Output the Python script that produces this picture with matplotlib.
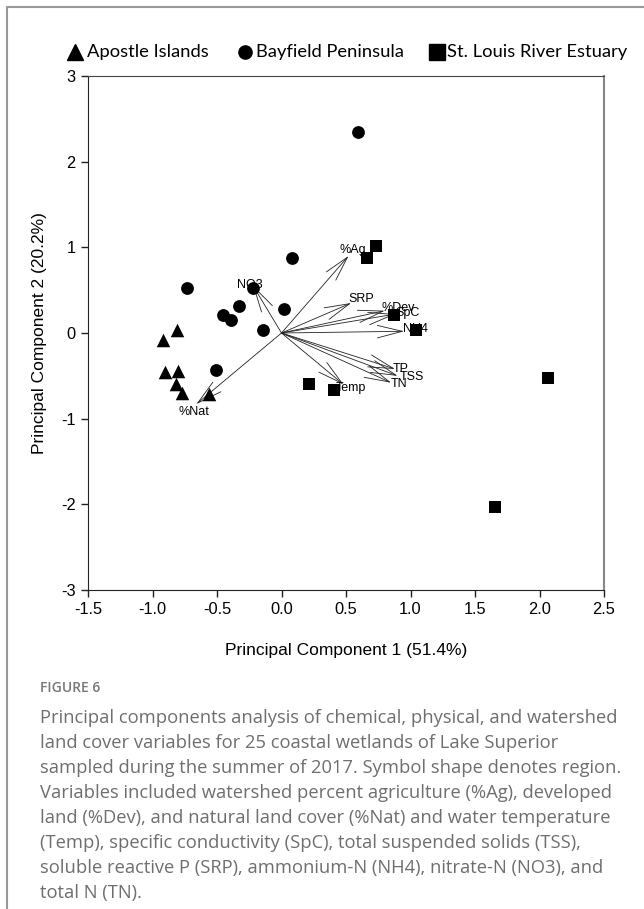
import matplotlib
matplotlib.use('Agg')
import matplotlib.pyplot as plt
from matplotlib.lines import Line2D

# site scores (PC1, PC2)
apostle_x = [-0.92, -0.81, -0.90, -0.80, -0.815, -0.77, -0.565]
apostle_y = [-0.08, 0.03, -0.46, -0.44, -0.60, -0.70, -0.71]
bayfield_x = [0.59, 0.08, -0.735, -0.22, -0.33, -0.455, -0.39, 0.02, -0.14, -0.51]
bayfield_y = [2.35, 0.87, 0.52, 0.52, 0.32, 0.21, 0.15, 0.28, 0.03, -0.43]
stlouis_x = [0.735, 0.66, 0.87, 1.045, 0.215, 0.405, 2.065, 1.655]
stlouis_y = [1.02, 0.88, 0.21, 0.03, -0.60, -0.67, -0.53, -2.03]

# variable vectors
var_names = ['%Ag', 'NO3', 'SRP', '%Dev', 'SpC', 'NH4', 'TP', 'TSS', 'TN', 'Temp', '%Nat']
var_x = [0.52, -0.22, 0.54, 0.80, 0.88, 0.95, 0.88, 0.90, 0.85, 0.48, -0.66]
var_y = [0.90, 0.55, 0.35, 0.26, 0.22, 0.02, -0.42, -0.50, -0.58, -0.60, -0.83]
label_x = [0.45, -0.345, 0.52, 0.775, 0.88, 0.94, 0.865, 0.915, 0.85, 0.42, -0.80]
label_y = [0.97, 0.56, 0.40, 0.29, 0.23, 0.05, -0.42, -0.515, -0.60, -0.64, -0.92]

xticks = [-1.5, -1.0, -0.5, 0.0, 0.5, 1.0, 1.5, 2.0, 2.5]
yticks = [-3, -2, -1, 0, 1, 2, 3]

caption = [
    "Principal components analysis of chemical, physical, and watershed",
    "land cover variables for 25 coastal wetlands of Lake Superior",
    "sampled during the summer of 2017. Symbol shape denotes region.",
    "Variables included watershed percent agriculture (%Ag), developed",
    "land (%Dev), and natural land cover (%Nat) and water temperature",
    "(Temp), specific conductivity (SpC), total suspended solids (TSS),",
    "soluble reactive P (SRP), ammonium-N (NH4), nitrate-N (NO3), and",
    "total N (TN).",
]

W, H = 644, 909
fig = plt.figure(figsize=(W / 100, H / 100), dpi=100)
ax = fig.add_axes([88 / W, 1 - 590 / H, 516 / W, 514 / H])

arial = 'Liberation Sans'

# arrows
for i in range(len(var_names)):
    ax.annotate('', xy=(var_x[i], var_y[i]), xytext=(0, 0),
                arrowprops=dict(arrowstyle='->,head_length=1.8,head_width=0.45',
                                lw=0.6, color='#222222', shrinkA=0, shrinkB=0),
                zorder=2)
    ax.text(label_x[i], label_y[i], var_names[i], fontsize=9, family=arial,
            ha='left', va='center', zorder=3)

ax.scatter(apostle_x, apostle_y, marker='^', s=95, color='black', zorder=4, linewidths=0)
ax.scatter(bayfield_x, bayfield_y, marker='o', s=85, color='black', zorder=4, linewidths=0)
ax.scatter(stlouis_x, stlouis_y, marker='s', s=70, color='black', zorder=4, linewidths=0)

ax.set_xlim(-1.5, 2.5)
ax.set_ylim(-3, 3)
ax.set_xticks(xticks)
ax.set_xticklabels([f'{t:.1f}' for t in xticks])
ax.set_yticks(yticks)
ax.set_yticklabels([str(t) for t in yticks])
ax.tick_params(direction='out', length=5, width=1, labelsize=11.8, color='#222222', pad=4)
for lab in ax.get_xticklabels() + ax.get_yticklabels():
    lab.set_family(arial)
ax.spines['left'].set_color('#222222')
ax.spines['bottom'].set_color('#222222')
ax.spines['top'].set_color('#444444')
ax.spines['right'].set_color('#888888')
ax.spines['right'].set_linewidth(1.5)

ax.set_xlabel('Principal Component 1 (51.4%)', fontsize=12.5, family=arial, labelpad=18)
ax.set_ylabel('Principal Component 2 (20.2%)', fontsize=12.5, family=arial, labelpad=10)

# legend row above the plot
leg_font = 'Lato'
leg_y = 1 - 52 / H
fig.add_artist(Line2D([75 / W], [leg_y], marker='^', markersize=11, color='black', lw=0))
fig.text(87 / W, leg_y, 'Apostle Islands', fontsize=13.2, family=leg_font, va='center')
fig.add_artist(Line2D([245 / W], [leg_y], marker='o', markersize=9.5, color='black', lw=0))
fig.text(256 / W, leg_y, 'Bayfield Peninsula', fontsize=13.2, family=leg_font, va='center')
fig.add_artist(Line2D([437 / W], [leg_y], marker='s', markersize=11, color='black', lw=0))
fig.text(447 / W, leg_y, 'St. Louis River Estuary', fontsize=13.2, family=leg_font, va='center')

# page frame
fig.add_artist(Line2D([7 / W, 7 / W, 1], [0, 1 - 7 / H, 1 - 7 / H], color='#999999', lw=1.5))

# caption
fig.text(40 / W, 1 - 688 / H, 'FIGURE 6', fontsize=10, family='Open Sans',
         weight='semibold', color='#777777', va='center')
for k, line in enumerate(caption):
    fig.text(40 / W, 1 - (718 + 25 * k) / H, line, fontsize=13.2, family='Open Sans',
             color='#6e6e6e', va='center')

fig.savefig('out.png', dpi=100)
